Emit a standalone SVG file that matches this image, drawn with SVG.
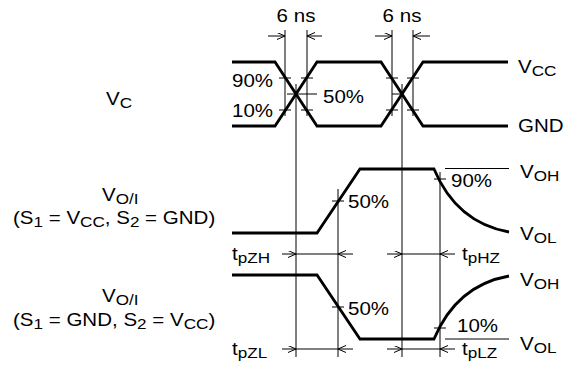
<svg xmlns="http://www.w3.org/2000/svg" width="571" height="370" viewBox="0 0 571 370">
<style>
.w{fill:none;stroke:#000;stroke-width:2.8;stroke-linejoin:miter}
.t{fill:none;stroke:#000;stroke-width:1}
.a{fill:none;stroke:#000;stroke-width:1;marker-end:url(#ah)}
text{font-family:"Liberation Sans",Arial,sans-serif;font-size:18px;fill:#000}
.s{font-size:15px}
</style>
<defs>
<marker id="ah" markerUnits="userSpaceOnUse" markerWidth="10" markerHeight="8" refX="8" refY="3.5" orient="auto">
<path d="M0,0 L8,3.5 L0,7" fill="none" stroke="#000" stroke-width="1"/>
</marker>
</defs>
<rect width="571" height="370" fill="#fff"/>
<g id="waveforms">
<path class="w" d="M232,62 H275 L317,126 H381 L423,62 H508"/>
<path class="w" d="M232,126 H275 L317,62 H381 L423,126 H508"/>
<path class="w" d="M232,233 H317 L360,169 H434 C447,200 470,225 509,232"/>
<path class="w" d="M232,275 H317 L360,339 H434 C447,308 470,283 509,276"/>
</g>
<g id="connectors">
<line class="t" x1="285" y1="30" x2="285" y2="116"/>
<line class="t" x1="307" y1="30" x2="307" y2="116"/>
<line class="t" x1="392" y1="30" x2="392" y2="116"/>
<line class="t" x1="413" y1="30" x2="413" y2="116"/>
<line class="t" x1="296" y1="84" x2="296" y2="357"/>
<line class="t" x1="402" y1="84" x2="402" y2="357"/>
<line class="t" x1="338" y1="189" x2="338" y2="357"/>
<line class="t" x1="440" y1="172" x2="440" y2="357"/>
<path class="t" d="M279,78 H291 M301,78 H313 M279,110 H291 M301,110 H313 M287,94 H317"/>
<path class="t" d="M386,78 H398 M407,78 H419 M386,110 H398 M407,110 H419 M392,94 H402"/>
<path class="t" d="M445,168.5 H509 M445,339 H509"/>
<path class="t" d="M332,201 H344 M434,179 H446 M332,307 H344 M434,328 H446"/>
<line class="a" x1="268" y1="36" x2="285" y2="36"/>
<line class="a" x1="322" y1="36" x2="307" y2="36"/>
<line class="a" x1="375" y1="36" x2="392" y2="36"/>
<line class="a" x1="430" y1="36" x2="413" y2="36"/>
<line class="a" x1="282" y1="254" x2="296" y2="254"/>
<line class="t" x1="296" y1="254" x2="338" y2="254"/>
<line class="a" x1="353" y1="254" x2="338" y2="254"/>
<line class="a" x1="387" y1="254" x2="402" y2="254"/>
<line class="t" x1="402" y1="254" x2="440" y2="254"/>
<line class="a" x1="455" y1="254" x2="440" y2="254"/>
<line class="a" x1="282" y1="349" x2="296" y2="349"/>
<line class="t" x1="296" y1="349" x2="338" y2="349"/>
<line class="a" x1="353" y1="349" x2="338" y2="349"/>
<line class="a" x1="387" y1="349" x2="402" y2="349"/>
<line class="t" x1="402" y1="349" x2="440" y2="349"/>
<line class="a" x1="455" y1="349" x2="440" y2="349"/>
</g>
<g id="labels">
<text transform="translate(296 22) scale(1.14 1)" text-anchor="middle">6 ns</text>
<text transform="translate(402 22) scale(1.14 1)" text-anchor="middle">6 ns</text>
<text transform="translate(232 87) scale(1.14 1)">90%</text>
<text transform="translate(232 117) scale(1.14 1)">10%</text>
<text transform="translate(323 103) scale(1.14 1)">50%</text>
<text transform="translate(106 105) scale(1.14 1)">V<tspan class="s" dy="3">C</tspan></text>
<text transform="translate(518 73) scale(1.14 1)">V<tspan class="s" dy="3">CC</tspan></text>
<text transform="translate(518 132) scale(1.14 1)">GND</text>
<text transform="translate(102 201) scale(1.14 1)">V<tspan class="s" dy="3">O/I</tspan></text>
<text transform="translate(13 224) scale(1.14 1)">(S<tspan class="s" dy="3">1</tspan><tspan dy="-3"> = V</tspan><tspan class="s" dy="3">CC</tspan><tspan dy="-3">, S</tspan><tspan class="s" dy="3">2</tspan><tspan dy="-3"> = GND)</tspan></text>
<text transform="translate(348 208) scale(1.14 1)">50%</text>
<text transform="translate(451 187) scale(1.14 1)">90%</text>
<text transform="translate(520 178) scale(1.14 1)">V<tspan class="s" dy="3">OH</tspan></text>
<text transform="translate(520 240) scale(1.14 1)">V<tspan class="s" dy="3">OL</tspan></text>
<text transform="translate(232 260) scale(1.14 1)">t<tspan class="s" dy="3">pZH</tspan></text>
<text transform="translate(462 260) scale(1.14 1)">t<tspan class="s" dy="3">pHZ</tspan></text>
<text transform="translate(102 302) scale(1.14 1)">V<tspan class="s" dy="3">O/I</tspan></text>
<text transform="translate(13 326) scale(1.14 1)">(S<tspan class="s" dy="3">1</tspan><tspan dy="-3"> = GND, S</tspan><tspan class="s" dy="3">2</tspan><tspan dy="-3"> = V</tspan><tspan class="s" dy="3">CC</tspan><tspan dy="-3">)</tspan></text>
<text transform="translate(348 315) scale(1.14 1)">50%</text>
<text transform="translate(457 332) scale(1.14 1)">10%</text>
<text transform="translate(520 286) scale(1.14 1)">V<tspan class="s" dy="3">OH</tspan></text>
<text transform="translate(520 350) scale(1.14 1)">V<tspan class="s" dy="3">OL</tspan></text>
<text transform="translate(232 355) scale(1.14 1)">t<tspan class="s" dy="3">pZL</tspan></text>
<text transform="translate(462 355) scale(1.14 1)">t<tspan class="s" dy="3">pLZ</tspan></text>
</g>
</svg>
